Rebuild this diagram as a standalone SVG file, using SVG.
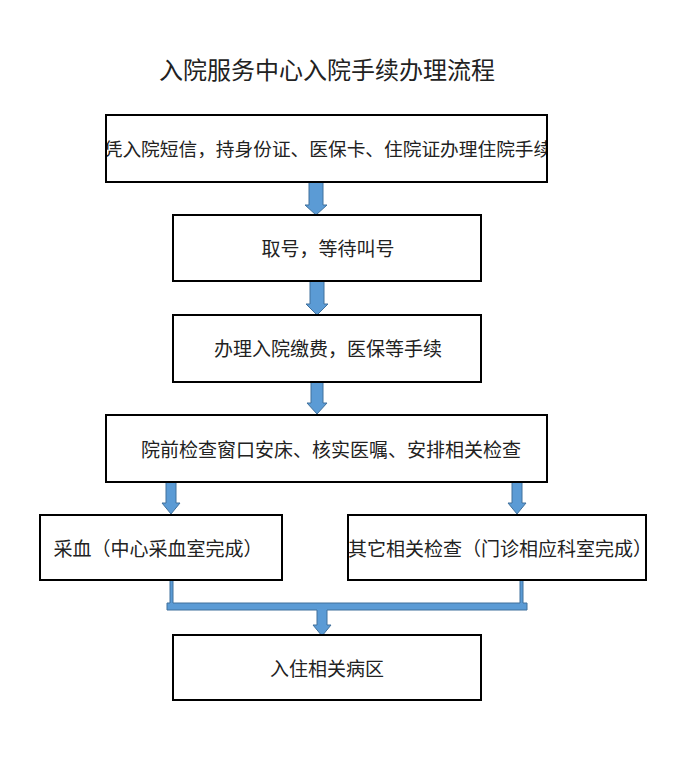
<svg xmlns="http://www.w3.org/2000/svg" width="694" height="760" viewBox="0 0 694 760">
<style>
.box{fill:#fff;stroke:#000;stroke-width:2}
.t{font-family:"Noto Sans CJK SC","Liberation Serif",serif;font-size:19px;fill:#222}
.title{font-family:"Noto Sans CJK SC","Liberation Serif",serif;font-size:24px;fill:#222}
.arr{fill:#5B9BD5;stroke:#41719C;stroke-width:1}
</style>
<defs>
<clipPath id="c1"><rect x="107" y="116" width="439" height="65"/></clipPath>
</defs>
<rect width="694" height="760" fill="#fff"/>
<text class="title" x="327" y="79" text-anchor="middle">入院服务中心入院手续办理流程</text>
<g id="connectors">
<path class="arr" d="M309,182 H323 V205 H327 L316,215 L305,205 H309 Z"/>
<path class="arr" d="M310,281 H324 V304 H328 L317,315 L306,304 H310 Z"/>
<path class="arr" d="M311,382 H323 V403 H327 L317,414 L307,403 H311 Z"/>
<path class="arr" d="M166,482 H176 V503 H180 L171,514 L162,503 H166 Z"/>
<path class="arr" d="M512,482 H522 V503 H526 L517,514 L508,503 H512 Z"/>
<path class="arr" d="M170,580 H173 V603 H520 V580 H523 V603 H527 V610 H327 V625 H331 L322,636 L313,625 H317 V610 H167 V603 H170 Z"/>
</g>
<g id="n1">
<rect class="box" x="106" y="115" width="441" height="67"/>
<text class="t" x="328" y="156" text-anchor="middle" style="font-size:18.7px" clip-path="url(#c1)">凭入院短信，持身份证、医保卡、住院证办理住院手续</text>
</g>
<g id="n2">
<rect class="box" x="173" y="215" width="308" height="66"/>
<text class="t" x="328" y="256" text-anchor="middle">取号，等待叫号</text>
</g>
<g id="n3">
<rect class="box" x="173" y="315" width="308" height="67"/>
<text class="t" x="328" y="356" text-anchor="middle">办理入院缴费，医保等手续</text>
</g>
<g id="n4">
<rect class="box" x="106" y="415" width="441" height="67"/>
<text class="t" x="331" y="457" text-anchor="middle">院前检查窗口安床、核实医嘱、安排相关检查</text>
</g>
<g id="n5">
<rect class="box" x="40" y="515" width="242" height="65"/>
<text class="t" x="158" y="556" text-anchor="middle">采血（中心采血室完成）</text>
</g>
<g id="n6">
<rect class="box" x="348" y="515" width="298" height="65"/>
<text class="t" x="348" y="556">其它相关检查（门诊相应科室完成）</text>
</g>
<g id="n7">
<rect class="box" x="173" y="635" width="308" height="65"/>
<text class="t" x="327" y="676" text-anchor="middle">入住相关病区</text>
</g>
</svg>
